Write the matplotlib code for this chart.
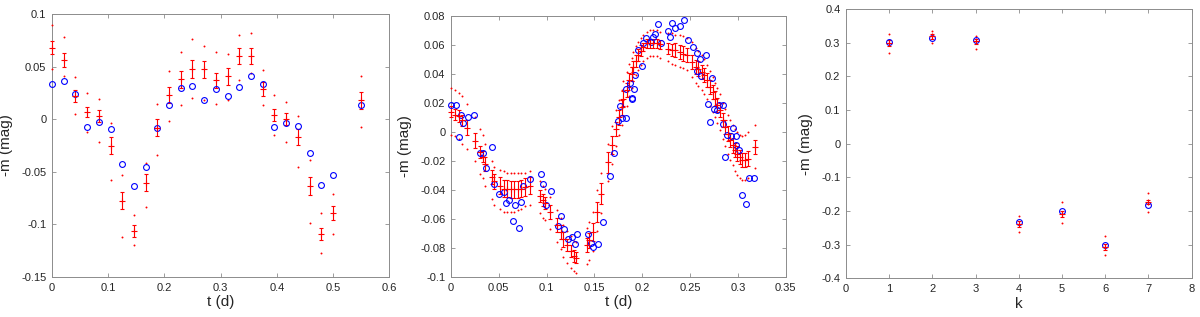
import matplotlib
matplotlib.use("Agg")
import matplotlib.pyplot as plt
from matplotlib.ticker import FuncFormatter

plt.rcParams['font.family'] = ['Liberation Sans', 'DejaVu Sans']
plt.rcParams['axes.unicode_minus'] = False

# ---------------- Panel 1 data ----------------
t1 = [0, 0.0208, 0.0417, 0.0625, 0.0833, 0.1042, 0.125, 0.1458, 0.1667, 0.1875,
      0.2083, 0.2292, 0.25, 0.2708, 0.2917, 0.3125, 0.3333, 0.3542, 0.375, 0.3958,
      0.4167, 0.4375, 0.4583, 0.4792, 0.5, 0.55]
blue1 = [0.033, 0.036, 0.024, -0.007, -0.003, -0.0095, -0.043, -0.0635, -0.0454, -0.0083,
         0.0137, 0.0296, 0.0318, 0.0184, 0.029, 0.0216, 0.031, 0.041, 0.0337, -0.0076,
         -0.0038, -0.0064, -0.032, -0.0626, -0.053, 0.0137]
red1 = [0.068, 0.056, 0.022, 0.0067, 0.0029, -0.0254, -0.0775, -0.1064, -0.0604, -0.008,
        0.023, 0.038, 0.0477, 0.0473, 0.037, 0.0407, 0.060, 0.060, 0.0289, 0.0044,
        0.0003, -0.0168, -0.0635, -0.109, -0.089, 0.0178]
err1 = [0.0065, 0.0065, 0.0059, 0.0048, 0.0056, 0.0081, 0.0081, 0.0054, 0.0081, 0.0078,
        0.0078, 0.0079, 0.0084, 0.0078, 0.007, 0.0079, 0.0073, 0.0073, 0.0067, 0.0057,
        0.0056, 0.0079, 0.0084, 0.006, 0.0068, 0.0084]
up1 = [0.0896, 0.078, 0.040, 0.025, 0.019, -0.004, -0.053, -0.0915, -0.042, 0.014,
       0.046, 0.0635, 0.0759, 0.070, 0.0635, 0.062, 0.0797, 0.0816, 0.0467, 0.0229,
       0.0165, 0.0035, -0.0384, -0.089, -0.0712, 0.041]
lo1 = [0.0477, 0.041, 0.0054, -0.0124, -0.022, -0.058, -0.1115, -0.120, -0.083, -0.034,
       -0.002, 0.0137, 0.0206, 0.018, 0.0146, 0.018, 0.0375, 0.0435, 0.0133, -0.0149,
       -0.022, -0.045, -0.0988, -0.127, -0.109, -0.007]

# ---------------- Panel 2 data ----------------
t2b = [0, 0.005, 0.008, 0.011, 0.0127, 0.0173, 0.0243, 0.030, 0.0335, 0.0363, 0.043, 0.0447,
       0.05, 0.0553, 0.058, 0.061, 0.065, 0.0665, 0.0708, 0.073, 0.0757, 0.0824, 0.0944,
       0.0965, 0.0993, 0.105, 0.1116, 0.1155, 0.1183, 0.1222, 0.1268, 0.1292, 0.1317, 0.1433,
       0.146, 0.149, 0.1539, 0.1593, 0.1666, 0.1703, 0.1745, 0.1769, 0.1793, 0.1831, 0.1828,
       0.1869, 0.189, 0.1897, 0.191, 0.1928, 0.1959, 0.1993, 0.2003, 0.2038, 0.2093, 0.2117,
       0.2138, 0.2169, 0.2197, 0.2269, 0.2293, 0.2314, 0.2345, 0.2397, 0.2438, 0.2476, 0.2528,
       0.2569, 0.26, 0.2572, 0.2614, 0.2666, 0.269, 0.2703, 0.2728, 0.2745, 0.2786, 0.2841,
       0.2807, 0.2848, 0.2869, 0.2886, 0.2924, 0.2945, 0.2976, 0.2983, 0.3014, 0.3045, 0.3083,
       0.3117, 0.3172]
v2b = [0.0189, 0.0189, -0.0032, 0.012, 0.0062, 0.0106, 0.0115, -0.0145, -0.0145, -0.0246,
       -0.0103, -0.0356, -0.0425, -0.0414, -0.049, -0.047, -0.0616, -0.0506, -0.0664, -0.0485,
       -0.0375, -0.0324, -0.0292, -0.0356, -0.0506, -0.0405, -0.065, -0.0582, -0.0667, -0.0738,
       -0.0724, -0.0775, -0.0706, -0.0703, -0.0766, -0.0793, -0.0772, -0.0623, -0.0303, -0.0145,
       0.0076, 0.0177, 0.0097, 0.0097, 0.0294, 0.0338, 0.0234, 0.0225, 0.0297, 0.0395, 0.0568,
       0.0457, 0.0614, 0.0644, 0.0621, 0.0655, 0.0676, 0.0745, 0.0616, 0.0699, 0.0655, 0.0752,
       0.0717, 0.0729, 0.077, 0.0637, 0.0586, 0.0547, 0.0501, 0.0418, 0.0384, 0.0529, 0.0195,
       0.0069, 0.0375, 0.0161, 0.015, 0.0186, 0.0189, 0.0057, -0.0172, -0.0023, -0.0025, 0.003,
       -0.0087, -0.0028, -0.0124, -0.0432, -0.0494, -0.0315, -0.0315]

t2 = [0.000, 0.004, 0.008, 0.012, 0.017, 0.025, 0.030, 0.033, 0.036, 0.043, 0.045, 0.051,
      0.055, 0.059, 0.063, 0.066, 0.070, 0.073, 0.077, 0.083, 0.093, 0.096, 0.098, 0.104,
      0.1105, 0.1147, 0.1175, 0.121, 0.126, 0.1287, 0.1304, 0.1426, 0.1447, 0.1482, 0.1524,
      0.157, 0.1646, 0.168, 0.1723, 0.176, 0.1785, 0.1803, 0.1838, 0.1865, 0.189, 0.1907,
      0.1935, 0.1959, 0.1984, 0.2012, 0.2047, 0.2082, 0.2116, 0.2152, 0.2186, 0.2273, 0.2308,
      0.2343, 0.2395, 0.243, 0.2465, 0.2518, 0.2563, 0.2587, 0.2622, 0.2646, 0.2675, 0.2709,
      0.2737, 0.2762, 0.2786, 0.2814, 0.2842, 0.2866, 0.2891, 0.2918, 0.2947, 0.2971, 0.2995,
      0.3023, 0.3047, 0.3075, 0.311, 0.318]
m2 = [0.014, 0.012, 0.011, 0.008, 0.003, -0.006, -0.014, -0.017, -0.022, -0.031, -0.034, -0.037,
      -0.039, -0.039, -0.0395, -0.0395, -0.0395, -0.039, -0.038, -0.037, -0.044, -0.047, -0.049,
      -0.055, -0.064, -0.069, -0.074, -0.078, -0.082, -0.0855, -0.0866, -0.078, -0.0747, -0.069,
      -0.0552, -0.0425, -0.021, -0.009, 0.002, 0.010, 0.017, 0.023, 0.029, 0.0357, 0.040, 0.045,
      0.049, 0.053, 0.056, 0.0586, 0.061, 0.061, 0.061, 0.061, 0.0605, 0.0575, 0.0563, 0.0563,
      0.0552, 0.054, 0.0529, 0.0483, 0.0448, 0.0437, 0.0414, 0.0391, 0.0357, 0.031, 0.0276,
      0.023, 0.0184, 0.015, 0.0081, 0.0034, -0.0011, -0.0057, -0.0092, -0.0126, -0.0149,
      -0.0172, -0.0195, -0.0195, -0.0184, -0.0103]
e2 = [0.004, 0.004, 0.004, 0.004, 0.005, 0.005, 0.004, 0.004, 0.005, 0.005, 0.005, 0.006,
      0.006, 0.006, 0.006, 0.006, 0.006, 0.006, 0.006, 0.006, 0.004, 0.004, 0.004, 0.005,
      0.005, 0.005, 0.005, 0.004, 0.004, 0.004, 0.004, 0.005, 0.005, 0.006, 0.007, 0.007,
      0.007, 0.006, 0.005, 0.005, 0.005, 0.005, 0.005, 0.005, 0.005, 0.004, 0.004, 0.004,
      0.004, 0.003, 0.003, 0.003, 0.003, 0.003, 0.003, 0.004, 0.004, 0.005, 0.005, 0.005,
      0.005, 0.005, 0.005, 0.005, 0.005, 0.005, 0.005, 0.005, 0.005, 0.005, 0.005, 0.005,
      0.005, 0.005, 0.005, 0.005, 0.005, 0.005, 0.005, 0.005, 0.005, 0.005, 0.005, 0.005]
up2 = [0.030, 0.029, 0.027, 0.025, 0.019, 0.010, 0.002, -0.002, -0.008, -0.020, -0.024, -0.026,
       -0.027, -0.028, -0.028, -0.028, -0.028, -0.028, -0.028, -0.027, -0.034, -0.037, -0.039,
       -0.045, -0.054, -0.059, -0.064, -0.068, -0.072, -0.075, -0.076, -0.066, -0.062, -0.055,
       -0.040, -0.028, -0.008, 0.004, 0.015, 0.022, 0.029, 0.035, 0.041, 0.047, 0.051, 0.055,
       0.059, 0.062, 0.065, 0.067, 0.069, 0.070, 0.070, 0.070, 0.069, 0.068, 0.068, 0.067,
       0.067, 0.066, 0.065, 0.062, 0.058, 0.056, 0.053, 0.050, 0.046, 0.042, 0.038, 0.034,
       0.030, 0.026, 0.020, 0.016, 0.012, 0.008, 0.005, 0.002, 0.000, -0.002, -0.003, -0.002,
       0.000, 0.005]
lo2 = [-0.002, -0.003, -0.005, -0.008, -0.012, -0.020, -0.029, -0.032, -0.037, -0.046, -0.050,
       -0.053, -0.055, -0.055, -0.055, -0.055, -0.054, -0.053, -0.051, -0.050, -0.056, -0.059,
       -0.061, -0.067, -0.076, -0.081, -0.086, -0.090, -0.094, -0.096, -0.097, -0.091, -0.088,
       -0.082, -0.068, -0.056, -0.034, -0.022, -0.010, -0.002, 0.005, 0.011, 0.018, 0.025,
       0.030, 0.035, 0.039, 0.043, 0.046, 0.049, 0.051, 0.052, 0.052, 0.052, 0.051, 0.049,
       0.047, 0.046, 0.045, 0.044, 0.043, 0.038, 0.034, 0.032, 0.029, 0.026, 0.023, 0.018,
       0.014, 0.010, 0.006, 0.001, -0.005, -0.010, -0.015, -0.019, -0.023, -0.027, -0.030,
       -0.032, -0.033, -0.033, -0.032, -0.025]

# ---------------- Panel 3 data ----------------
k3 = [1, 2, 3, 4, 5, 6, 7]
blue3 = [0.303, 0.315, 0.307, -0.232, -0.201, -0.301, -0.181]
red3 = [0.300, 0.318, 0.304, -0.239, -0.209, -0.306, -0.173]
err3 = [0.009, 0.007, 0.008, 0.010, 0.010, 0.009, 0.007]
up3 = [0.324, 0.335, 0.318, -0.214, -0.174, -0.273, -0.148]
lo3 = [0.270, 0.300, 0.282, -0.263, -0.235, -0.330, -0.203]

RED = '#ff0000'
BLUE = '#0000ff'
FRAME = '#8c8c8c'
TXT = '#262626'

fig = plt.figure(figsize=(12, 3.17), dpi=100)


def fmt(v, pos):
    return '%g' % round(v, 6)


def style(ax, xlim, ylim, xt, yt, xlabel):
    ax.set_xlim(*xlim)
    ax.set_ylim(*ylim)
    ax.set_xticks(xt)
    ax.set_yticks(yt)
    ax.xaxis.set_major_formatter(FuncFormatter(fmt))
    ax.yaxis.set_major_formatter(FuncFormatter(fmt))
    ax.tick_params(direction='in', length=3, width=0.6, colors=FRAME,
                   labelcolor=TXT, labelsize=8, top=True, right=True, pad=4)
    for sp in ax.spines.values():
        sp.set_color(FRAME)
        sp.set_linewidth(0.7)
        sp.set_zorder(0)
    ax.set_xlabel(xlabel, fontsize=11, color=TXT, labelpad=2)
    ax.set_ylabel('-m (mag)', fontsize=11, color=TXT, labelpad=6)


def draw(ax, tb, vb, tr, vr, er, up, lo, ms_o=4.2, cap=1.6):
    ax.plot(tr, up, linestyle='none', marker='o', ms=1.4, mec='none', mfc=RED, clip_on=False)
    ax.plot(tr, lo, linestyle='none', marker='o', ms=1.4, mec='none', mfc=RED, clip_on=False)
    eb = ax.errorbar(tr, vr, yerr=er, fmt='+', color=RED, ecolor=RED, elinewidth=0.8,
                     capsize=cap, capthick=0.8, ms=4, mew=0.8)
    for art in eb.get_children():
        art.set_clip_on(False)
    ax.plot(tb, vb, linestyle='none', marker='o', ms=ms_o, mfc='none', mec=BLUE, mew=0.8,
            clip_on=False)


ax1 = fig.add_axes([0.0433, 0.126, 0.281, 0.830])
draw(ax1, t1, blue1, t1, red1, err1, up1, lo1)
style(ax1, (0, 0.6), (-0.15, 0.1), [0, 0.1, 0.2, 0.3, 0.4, 0.5, 0.6],
      [-0.15, -0.1, -0.05, 0, 0.05, 0.1], 't (d)')

ax2 = fig.add_axes([0.3758, 0.126, 0.279, 0.824])
draw(ax2, t2b, v2b, t2, m2, e2, up2, lo2)
style(ax2, (0, 0.35), (-0.1, 0.08), [0, 0.05, 0.1, 0.15, 0.2, 0.25, 0.3, 0.35],
      [-0.1, -0.08, -0.06, -0.04, -0.02, 0, 0.02, 0.04, 0.06, 0.08], 't (d)')

ax3 = fig.add_axes([0.705, 0.122, 0.288, 0.850])
draw(ax3, k3, blue3, k3, red3, err3, up3, lo3)
style(ax3, (0, 8), (-0.4, 0.4), list(range(0, 9)),
      [-0.4, -0.3, -0.2, -0.1, 0, 0.1, 0.2, 0.3, 0.4], 'k')

fig.savefig('out.png', dpi=100)
